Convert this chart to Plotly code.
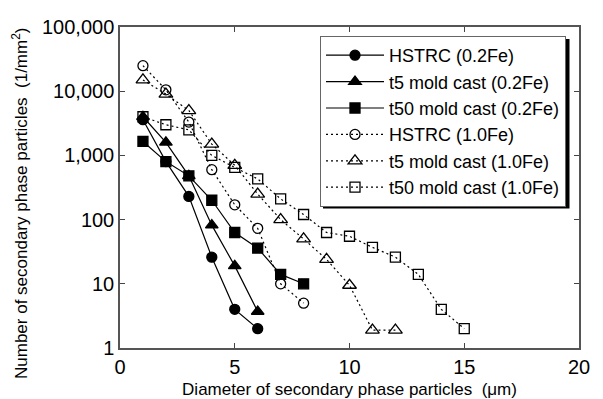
import plotly.graph_objects as go

# Data
x_hstrc_02 = [1, 2, 3, 4, 5, 6]
y_hstrc_02 = [3600, 800, 230, 26, 4, 2]

x_t5_02 = [1, 2, 3, 4, 5, 6]
y_t5_02 = [4000, 1600, 480, 82, 19, 3.7]

x_t50_02 = [1, 2, 3, 4, 5, 6, 7, 8]
y_t50_02 = [1650, 800, 480, 200, 63, 36, 14, 10]

x_hstrc_10 = [1, 2, 3, 4, 5, 6, 7, 8]
y_hstrc_10 = [25000, 10500, 3300, 600, 170, 73, 10, 5]

x_t5_10 = [1, 2, 3, 4, 5, 6, 7, 8, 9, 10, 11, 12]
y_t5_10 = [15000, 9000, 5000, 1500, 700, 250, 100, 50, 24, 9.5, 1.9, 1.9]

x_t50_10 = [1, 2, 3, 4, 5, 6, 7, 8, 9, 10, 11, 12, 13, 14, 15]
y_t50_10 = [4000, 3000, 2500, 1000, 650, 430, 210, 120, 63, 55, 37, 26, 14, 4, 2]

names = ["HSTRC (0.2Fe)", "t5 mold cast (0.2Fe)", "t50 mold cast (0.2Fe)",
         "HSTRC (1.0Fe)", "t5 mold cast (1.0Fe)", "t50 mold cast (1.0Fe)"]

y_tickvals = [1, 10, 100, 1000, 10000, 100000]
y_ticktext = ["1", "10", "100", "1,000", "10,000", "100,000"]
x_tickvals = [0, 5, 10, 15, 20]

x_title = "Diameter of secondary phase particles  (μm)"
y_title = "Number of secondary phase particles  (1/mm<sup>2</sup>)"

series = [
    (x_hstrc_02, y_hstrc_02, "circle", 10, "solid"),
    (x_t5_02, y_t5_02, "triangle-up", 11, "solid"),
    (x_t50_02, y_t50_02, "square", 10, "solid"),
    (x_hstrc_10, y_hstrc_10, "circle-open", 10, "2px,3px"),
    (x_t5_10, y_t5_10, "triangle-up-open", 12, "2px,3px"),
    (x_t50_10, y_t50_10, "square-open", 10, "2px,3px"),
]

fig = go.Figure()
for (xs, ys, sym, sz, dash), nm in zip(series, names):
    fig.add_trace(go.Scatter(
        x=xs, y=ys, name=nm, mode="lines+markers",
        line=dict(color="black", width=1.2, dash=dash),
        marker=dict(symbol=sym, size=sz, color="black",
                    line=dict(color="black", width=1.3)),
    ))

font_family = "Liberation Sans, Arial, sans-serif"

# legend shadow (offset black box behind the legend)
fig.add_shape(type="rect", xref="paper", yref="paper",
              x0=(323 - 120) / 459, x1=(569.5 - 120) / 459,
              y0=(348 - 208.5) / 321, y1=(348 - 39) / 321,
              fillcolor="black", line=dict(width=0), layer="above")

# y-axis title as rotated annotation
fig.add_annotation(text=y_title, xref="paper", yref="paper",
                   x=(20 - 120) / 459, y=(348 - 203) / 321,
                   xanchor="center", yanchor="middle", textangle=-90,
                   showarrow=False, font=dict(size=17))

fig.update_layout(
    width=603, height=399,
    margin=dict(l=120, r=24, t=27, b=51),
    paper_bgcolor="white", plot_bgcolor="white",
    font=dict(family=font_family, size=17, color="black"),
    showlegend=True,
    legend=dict(
        x=(320 - 120) / 459, y=(348 - 36) / 321,
        xanchor="left", yanchor="top",
        bgcolor="white", bordercolor="#666", borderwidth=1,
        font=dict(size=18, family=font_family),
        tracegroupgap=0, itemwidth=58,
    ),
    xaxis=dict(
        range=[0, 20], tickvals=x_tickvals, automargin=False,
        ticks="inside", ticklen=5, tickcolor="#444",
        showline=True, linecolor="#555", linewidth=1.5, mirror="ticks",
        showgrid=False, zeroline=False,
        tickfont=dict(size=20),
        title=dict(text=x_title, font=dict(size=17), standoff=13),
    ),
    yaxis=dict(
        type="log", range=[0, 5], tickvals=y_tickvals, ticktext=y_ticktext,
        automargin=False,
        ticks="inside", ticklen=5, tickcolor="#444",
        showline=True, linecolor="#555", linewidth=1.5, mirror="ticks",
        showgrid=False, zeroline=False,
        tickfont=dict(size=20),
    ),
)

fig.write_html("out.html")
